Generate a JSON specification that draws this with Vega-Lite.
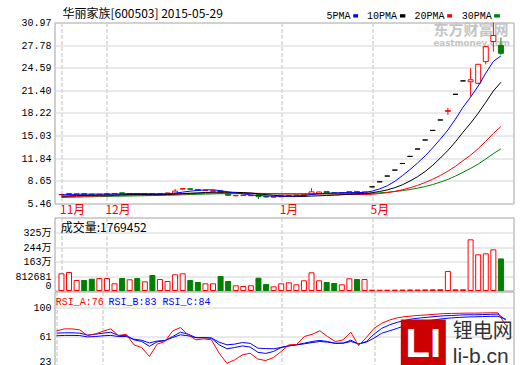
{
  "$schema": "https://vega.github.io/schema/vega-lite/v6.json",
  "background": "#ffffff",
  "padding": {"left": 13.5, "top": 6.5, "right": 2, "bottom": 0},
  "spacing": 14,
  "bounds": "flush",
  "config": {
    "view": {"stroke": "#a0a0a0", "strokeWidth": 1},
    "axis": {"labelFont": "Liberation Mono, Noto Sans CJK SC", "labelFontSize": 10, "labelColor": "#000000", "ticks": false, "tickSize": 0, "domain": false, "gridColor": "#d4d4d4", "gridWidth": 1, "labelOverlap": false}
  },
  "datasets": {
    "k": [
      {"i":0,"o":6.70,"h":6.80,"l":6.62,"c":6.73,"v":936000,"m5":6.67,"m10":6.49,"m20":6.40,"m30":6.31,"ra":68.6,"rb":65.5,"rc":62.0},
      {"i":1,"o":6.84,"h":6.93,"l":6.78,"c":6.87,"v":1008000,"m5":6.73,"m10":6.54,"m20":6.44,"m30":6.34,"ra":71.2,"rb":66.0,"rc":62.5},
      {"i":2,"o":6.78,"h":6.86,"l":6.72,"c":6.81,"v":560000,"m5":6.76,"m10":6.57,"m20":6.47,"m30":6.36,"ra":71.2,"rb":66.0,"rc":62.5},
      {"i":3,"o":6.84,"h":6.88,"l":6.74,"c":6.78,"v":560000,"m5":6.77,"m10":6.60,"m20":6.49,"m30":6.39,"ra":70.0,"rb":65.5,"rc":62.3},
      {"i":4,"o":6.78,"h":6.82,"l":6.66,"c":6.70,"v":633000,"m5":6.78,"m10":6.61,"m20":6.51,"m30":6.41,"ra":62.3,"rb":63.0,"rc":60.5},
      {"i":5,"o":6.70,"h":6.80,"l":6.66,"c":6.77,"v":672000,"m5":6.79,"m10":6.63,"m20":6.54,"m30":6.43,"ra":64.5,"rb":64.0,"rc":61.0},
      {"i":6,"o":6.76,"h":6.88,"l":6.72,"c":6.84,"v":672000,"m5":6.78,"m10":6.65,"m20":6.56,"m30":6.45,"ra":68.0,"rb":65.5,"rc":62.0},
      {"i":7,"o":6.84,"h":6.92,"l":6.80,"c":6.88,"v":375000,"m5":6.79,"m10":6.68,"m20":6.59,"m30":6.48,"ra":71.2,"rb":66.8,"rc":62.5},
      {"i":8,"o":6.96,"h":7.02,"l":6.84,"c":6.90,"v":672000,"m5":6.82,"m10":6.70,"m20":6.62,"m30":6.50,"ra":62.3,"rb":62.5,"rc":61.0},
      {"i":9,"o":6.80,"h":6.90,"l":6.74,"c":6.86,"v":600000,"m5":6.85,"m10":6.71,"m20":6.64,"m30":6.52,"ra":64.0,"rb":62.5,"rc":61.0},
      {"i":10,"o":6.86,"h":6.90,"l":6.74,"c":6.78,"v":672000,"m5":6.85,"m10":6.72,"m20":6.66,"m30":6.54,"ra":49.9,"rb":56.6,"rc":57.5},
      {"i":11,"o":6.78,"h":6.86,"l":6.74,"c":6.82,"v":487000,"m5":6.85,"m10":6.71,"m20":6.68,"m30":6.56,"ra":46.3,"rb":54.5,"rc":56.0},
      {"i":12,"o":6.86,"h":6.90,"l":6.70,"c":6.76,"v":840000,"m5":6.82,"m10":6.71,"m20":6.69,"m30":6.58,"ra":34.4,"rb":48.0,"rc":52.5},
      {"i":13,"o":6.76,"h":6.90,"l":6.72,"c":6.86,"v":616000,"m5":6.82,"m10":6.72,"m20":6.71,"m30":6.60,"ra":51.0,"rb":54.0,"rc":55.0},
      {"i":14,"o":6.86,"h":6.98,"l":6.82,"c":6.94,"v":504000,"m5":6.83,"m10":6.74,"m20":6.73,"m30":6.62,"ra":54.3,"rb":55.5,"rc":55.8},
      {"i":15,"o":6.90,"h":7.50,"l":6.86,"c":7.21,"v":880000,"m5":6.92,"m10":6.79,"m20":6.76,"m30":6.65,"ra":68.6,"rb":61.0,"rc":59.7},
      {"i":16,"o":7.50,"h":7.62,"l":7.44,"c":7.55,"v":936000,"m5":7.06,"m10":6.86,"m20":6.81,"m30":6.69,"ra":73.0,"rb":66.8,"rc":63.3},
      {"i":17,"o":7.54,"h":7.60,"l":7.38,"c":7.46,"v":560000,"m5":7.20,"m10":6.91,"m20":6.85,"m30":6.73,"ra":63.2,"rb":64.2,"rc":62.0},
      {"i":18,"o":7.44,"h":7.50,"l":7.30,"c":7.36,"v":448000,"m5":7.30,"m10":6.96,"m20":6.88,"m30":6.76,"ra":56.6,"rb":59.5,"rc":59.5},
      {"i":19,"o":7.28,"h":7.45,"l":7.22,"c":7.32,"v":375000,"m5":7.38,"m10":7.01,"m20":6.91,"m30":6.79,"ra":57.9,"rb":59.5,"rc":59.5},
      {"i":20,"o":7.20,"h":7.32,"l":7.12,"c":7.25,"v":375000,"m5":7.39,"m10":7.05,"m20":6.94,"m30":6.82,"ra":56.6,"rb":58.9,"rc":59.0},
      {"i":21,"o":7.22,"h":7.26,"l":6.90,"c":6.95,"v":784000,"m5":7.27,"m10":7.07,"m20":6.94,"m30":6.84,"ra":38.8,"rb":50.0,"rc":53.5},
      {"i":22,"o":6.92,"h":6.98,"l":6.55,"c":6.62,"v":504000,"m5":7.10,"m10":7.05,"m20":6.93,"m30":6.84,"ra":25.4,"rb":44.7,"rc":50.0},
      {"i":23,"o":6.55,"h":6.66,"l":6.48,"c":6.60,"v":263000,"m5":6.95,"m10":7.03,"m20":6.92,"m30":6.85,"ra":30.0,"rb":46.4,"rc":50.9},
      {"i":24,"o":6.58,"h":6.68,"l":6.52,"c":6.64,"v":224000,"m5":6.81,"m10":7.00,"m20":6.92,"m30":6.85,"ra":36.6,"rb":48.5,"rc":53.0},
      {"i":25,"o":6.56,"h":6.64,"l":6.50,"c":6.60,"v":263000,"m5":6.68,"m10":6.94,"m20":6.91,"m30":6.85,"ra":38.8,"rb":47.0,"rc":52.0},
      {"i":26,"o":6.70,"h":6.76,"l":6.10,"c":6.42,"v":689000,"m5":6.58,"m10":6.82,"m20":6.89,"m30":6.84,"ra":31.0,"rb":40.0,"rc":45.5},
      {"i":27,"o":6.45,"h":6.50,"l":6.28,"c":6.38,"v":336000,"m5":6.53,"m10":6.71,"m20":6.86,"m30":6.83,"ra":29.0,"rb":38.5,"rc":45.0},
      {"i":28,"o":6.36,"h":6.46,"l":6.30,"c":6.42,"v":207000,"m5":6.49,"m10":6.62,"m20":6.84,"m30":6.83,"ra":33.0,"rb":41.1,"rc":44.7},
      {"i":29,"o":6.42,"h":6.56,"l":6.38,"c":6.52,"v":375000,"m5":6.47,"m10":6.54,"m20":6.82,"m30":6.82,"ra":41.0,"rb":46.4,"rc":46.4},
      {"i":30,"o":6.52,"h":6.64,"l":6.48,"c":6.60,"v":431000,"m5":6.47,"m10":6.48,"m20":6.81,"m30":6.82,"ra":49.9,"rb":48.6,"rc":48.6},
      {"i":31,"o":6.60,"h":6.68,"l":6.54,"c":6.64,"v":319000,"m5":6.51,"m10":6.44,"m20":6.81,"m30":6.81,"ra":50.5,"rb":50.0,"rc":50.0},
      {"i":32,"o":6.62,"h":6.80,"l":6.58,"c":6.76,"v":543000,"m5":6.59,"m10":6.46,"m20":6.81,"m30":6.81,"ra":61.0,"rb":52.2,"rc":51.3},
      {"i":33,"o":6.78,"h":7.62,"l":6.70,"c":7.10,"v":992000,"m5":6.72,"m10":6.51,"m20":6.82,"m30":6.82,"ra":64.0,"rb":54.4,"rc":53.0},
      {"i":34,"o":6.86,"h":7.14,"l":6.80,"c":7.08,"v":543000,"m5":6.84,"m10":6.55,"m20":6.82,"m30":6.83,"ra":68.6,"rb":55.8,"rc":54.4},
      {"i":35,"o":7.16,"h":7.22,"l":6.88,"c":6.94,"v":448000,"m5":6.90,"m10":6.59,"m20":6.81,"m30":6.84,"ra":61.0,"rb":54.4,"rc":53.5},
      {"i":36,"o":6.98,"h":7.02,"l":6.82,"c":6.88,"v":392000,"m5":6.95,"m10":6.63,"m20":6.78,"m30":6.84,"ra":54.3,"rb":51.8,"rc":52.2},
      {"i":37,"o":6.88,"h":7.00,"l":6.84,"c":6.96,"v":319000,"m5":6.99,"m10":6.69,"m20":6.75,"m30":6.84,"ra":56.6,"rb":52.2,"rc":52.2},
      {"i":38,"o":6.94,"h":7.20,"l":6.90,"c":7.14,"v":655000,"m5":7.00,"m10":6.76,"m20":6.74,"m30":6.85,"ra":66.7,"rb":56.2,"rc":54.4},
      {"i":39,"o":7.16,"h":7.22,"l":6.96,"c":7.02,"v":616000,"m5":6.99,"m10":6.81,"m20":6.73,"m30":6.85,"ra":49.0,"rb":50.9,"rc":51.3},
      {"i":40,"o":6.82,"h":7.12,"l":6.78,"c":7.10,"v":616000,"m5":7.02,"m10":6.86,"m20":6.72,"m30":6.86,"ra":59.7,"rb":54.4,"rc":53.5},
      {"i":41,"o":7.81,"h":7.81,"l":7.81,"c":7.81,"v":21000,"m5":7.21,"m10":6.98,"m20":6.76,"m30":6.90,"ra":72.0,"rb":64.2,"rc":58.9},
      {"i":42,"o":8.52,"h":8.52,"l":8.52,"c":8.52,"v":15000,"m5":7.52,"m10":7.16,"m20":6.86,"m30":6.96,"ra":78.7,"rb":72.0,"rc":65.5},
      {"i":43,"o":9.33,"h":9.33,"l":9.33,"c":9.33,"v":18000,"m5":7.96,"m10":7.38,"m20":6.99,"m30":7.04,"ra":83.0,"rb":76.6,"rc":68.6},
      {"i":44,"o":10.17,"h":10.17,"l":10.17,"c":10.17,"v":22000,"m5":8.59,"m10":7.69,"m20":7.17,"m30":7.15,"ra":86.0,"rb":80.0,"rc":72.0},
      {"i":45,"o":11.10,"h":11.10,"l":11.10,"c":11.10,"v":25000,"m5":9.39,"m10":8.10,"m20":7.40,"m30":7.28,"ra":87.5,"rb":82.5,"rc":75.5},
      {"i":46,"o":12.10,"h":12.10,"l":12.10,"c":12.10,"v":30000,"m5":10.24,"m10":8.63,"m20":7.68,"m30":7.43,"ra":88.5,"rb":84.6,"rc":78.8},
      {"i":47,"o":13.14,"h":13.14,"l":13.14,"c":13.14,"v":28000,"m5":11.17,"m10":9.24,"m20":8.02,"m30":7.62,"ra":89.3,"rb":85.8,"rc":80.5},
      {"i":48,"o":14.41,"h":14.41,"l":14.41,"c":14.41,"v":35000,"m5":12.18,"m10":9.97,"m20":8.42,"m30":7.85,"ra":90.0,"rb":86.8,"rc":82.0},
      {"i":49,"o":15.76,"h":15.76,"l":15.76,"c":15.76,"v":40000,"m5":13.30,"m10":10.84,"m20":8.88,"m30":8.13,"ra":90.8,"rb":87.8,"rc":83.5},
      {"i":50,"o":17.23,"h":17.23,"l":17.23,"c":17.23,"v":45000,"m5":14.53,"m10":11.86,"m20":9.41,"m30":8.47,"ra":91.5,"rb":88.6,"rc":85.0},
      {"i":51,"o":18.45,"h":18.95,"l":17.95,"c":18.55,"v":1064000,"m5":15.82,"m10":12.93,"m20":10.01,"m30":8.85,"ra":91.8,"rb":89.0,"rc":85.8},
      {"i":52,"o":20.85,"h":20.85,"l":20.85,"c":20.85,"v":38000,"m5":17.36,"m10":14.16,"m20":10.71,"m30":9.33,"ra":92.0,"rb":89.6,"rc":86.5},
      {"i":53,"o":22.74,"h":22.74,"l":22.74,"c":22.74,"v":42000,"m5":19.03,"m10":15.51,"m20":11.49,"m30":9.86,"ra":92.2,"rb":90.0,"rc":87.0},
      {"i":54,"o":22.62,"h":24.52,"l":20.52,"c":22.90,"v":2840000,"m5":20.45,"m10":16.78,"m20":12.28,"m30":10.41,"ra":92.2,"rb":90.0,"rc":87.3},
      {"i":55,"o":22.40,"h":25.10,"l":22.30,"c":25.08,"v":2000000,"m5":22.02,"m10":18.18,"m20":13.19,"m30":11.02,"ra":92.4,"rb":90.3,"rc":87.6},
      {"i":56,"o":25.46,"h":27.60,"l":25.08,"c":27.58,"v":2056000,"m5":23.83,"m10":19.72,"m20":14.23,"m30":11.73,"ra":92.6,"rb":90.6,"rc":87.9},
      {"i":57,"o":28.29,"h":30.97,"l":26.88,"c":29.13,"v":2280000,"m5":25.49,"m10":21.32,"m20":15.33,"m30":12.49,"ra":92.6,"rb":90.8,"rc":88.0},
      {"i":58,"o":27.72,"h":28.85,"l":26.41,"c":26.63,"v":1769452,"m5":26.26,"m10":22.55,"m20":16.31,"m30":13.16,"ra":76.0,"rb":83.0,"rc":84.0}
    ]
  },
  "vconcat": [
    {
      "width": 459,
      "height": 181,
      "layer": [
        {"data": {"values": [{}]}, "mark": {"type": "text", "align": "left", "baseline": "middle", "font": "Noto Sans CJK SC", "fontSize": 15, "fontWeight": "bold", "color": "#c4c4c4"},
         "encoding": {"x": {"datum": 49.09, "type": "quantitative"}, "y": {"datum": 29.91, "type": "quantitative"}, "text": {"value": "东方财富网"}}},
        {"data": {"values": [{}]}, "mark": {"type": "text", "align": "left", "baseline": "middle", "font": "DejaVu Sans", "fontSize": 8.7, "fontWeight": "bold", "color": "#c4c4c4"},
         "encoding": {"x": {"datum": 49.09, "type": "quantitative"}, "y": {"datum": 28.15, "type": "quantitative"}, "text": {"value": "eastmoney.com"}}},
        {"data": {"name": "k"}, "mark": {"type": "rule", "strokeWidth": 1},
         "encoding": {
           "x": {"field": "i", "type": "quantitative", "scale": {"domain": [-0.26, 59.0], "nice": false, "zero": false},
                 "axis": {"title": null, "values": [0, 6, 29, 41], "tickCount": 20, "labelExpr": "datum.value == 0 ? '11月' : datum.value == 6 ? '12月' : datum.value == 29 ? '1月' : '5月'", "labelColor": "#ff0000", "labelFont": "Noto Sans CJK SC", "labelFontSize": 12, "labelAlign": "left", "labelBaseline": "top", "labelPadding": 1, "labelOffset": -2, "labelFlush": false, "labelOverlap": false, "grid": true, "gridDash": [4, 2], "gridColor": "#c0c0c0"}},
           "y": {"field": "l", "type": "quantitative", "scale": {"domain": [5.46, 30.97], "nice": false, "zero": false},
                 "axis": {"title": null, "values": [5.46, 8.65, 11.84, 15.03, 18.22, 21.40, 24.59, 27.78, 30.97], "tickCount": 20, "format": ".2f", "grid": true, "labelPadding": 3.5, "labelFlush": false, "labelOverlap": false}},
           "y2": {"field": "h"},
           "color": {"condition": [{"test": "datum.c > datum.o", "value": "#ff0000"}, {"test": "datum.c < datum.o", "value": "#008000"}], "value": "#000000"}
         }},
        {"data": {"name": "k"}, "mark": {"type": "bar", "width": 5, "strokeWidth": 1},
         "encoding": {
           "x": {"field": "i", "type": "quantitative"},
           "y": {"field": "o", "type": "quantitative"},
           "y2": {"field": "c"},
           "fill": {"condition": [{"test": "datum.c > datum.o", "value": "#ffffff"}, {"test": "datum.c < datum.o", "value": "#008000"}], "value": "#000000"},
           "stroke": {"condition": [{"test": "datum.c > datum.o", "value": "#ff0000"}, {"test": "datum.c < datum.o", "value": "#008000"}], "value": "#000000"}
         }},
        {"data": {"name": "k"}, "mark": {"type": "line", "color": "#008000", "strokeWidth": 1},
         "encoding": {"x": {"field": "i", "type": "quantitative"}, "y": {"field": "m30", "type": "quantitative"}}},
        {"data": {"name": "k"}, "mark": {"type": "line", "color": "#ff0000", "strokeWidth": 1},
         "encoding": {"x": {"field": "i", "type": "quantitative"}, "y": {"field": "m20", "type": "quantitative"}}},
        {"data": {"name": "k"}, "mark": {"type": "line", "color": "#000000", "strokeWidth": 1},
         "encoding": {"x": {"field": "i", "type": "quantitative"}, "y": {"field": "m10", "type": "quantitative"}}},
        {"data": {"name": "k"}, "mark": {"type": "line", "color": "#0000ff", "strokeWidth": 1},
         "encoding": {"x": {"field": "i", "type": "quantitative"}, "y": {"field": "m5", "type": "quantitative"}}},
        {"data": {"values": [{}]}, "mark": {"type": "text", "align": "left", "baseline": "middle", "font": "Noto Sans CJK SC", "fontSize": 12, "color": "#000000"},
         "encoding": {"x": {"datum": 0.127, "type": "quantitative"}, "y": {"datum": 32.17, "type": "quantitative"}, "text": {"value": "华丽家族[600503] 2015-05-29"}}},
        {"data": {"values": [{}]}, "mark": {"type": "text", "align": "left", "baseline": "middle", "font": "Liberation Mono", "fontSize": 10, "color": "#000000"},
         "encoding": {"x": {"datum": 34.98, "type": "quantitative"}, "y": {"datum": 31.91, "type": "quantitative"}, "text": {"value": "5PMA"}}},
        {"data": {"values": [{}]}, "mark": {"type": "text", "align": "left", "baseline": "middle", "font": "Liberation Mono", "fontSize": 10, "color": "#000000"},
         "encoding": {"x": {"datum": 40.32, "type": "quantitative"}, "y": {"datum": 31.91, "type": "quantitative"}, "text": {"value": "10PMA"}}},
        {"data": {"values": [{}]}, "mark": {"type": "text", "align": "left", "baseline": "middle", "font": "Liberation Mono", "fontSize": 10, "color": "#000000"},
         "encoding": {"x": {"datum": 46.60, "type": "quantitative"}, "y": {"datum": 31.91, "type": "quantitative"}, "text": {"value": "20PMA"}}},
        {"data": {"values": [{}]}, "mark": {"type": "text", "align": "left", "baseline": "middle", "font": "Liberation Mono", "fontSize": 10, "color": "#000000"},
         "encoding": {"x": {"datum": 52.84, "type": "quantitative"}, "y": {"datum": 31.91, "type": "quantitative"}, "text": {"value": "30PMA"}}},
        {"data": {"values": [{}]}, "mark": {"type": "rect", "color": "#0000ff"},
         "encoding": {"x": {"datum": 38.51, "type": "quantitative"}, "x2": {"datum": 39.15}, "y": {"datum": 32.14, "type": "quantitative"}, "y2": {"datum": 31.67}}},
        {"data": {"values": [{}]}, "mark": {"type": "rect", "color": "#000000"},
         "encoding": {"x": {"datum": 44.67, "type": "quantitative"}, "x2": {"datum": 45.39}, "y": {"datum": 32.14, "type": "quantitative"}, "y2": {"datum": 31.67}}},
        {"data": {"values": [{}]}, "mark": {"type": "rect", "color": "#ff0000"},
         "encoding": {"x": {"datum": 50.90, "type": "quantitative"}, "x2": {"datum": 51.55}, "y": {"datum": 32.14, "type": "quantitative"}, "y2": {"datum": 31.67}}},
        {"data": {"values": [{}]}, "mark": {"type": "rect", "color": "#008000"},
         "encoding": {"x": {"datum": 57.10, "type": "quantitative"}, "x2": {"datum": 57.87}, "y": {"datum": 32.14, "type": "quantitative"}, "y2": {"datum": 31.67}}}
      ]
    },
    {
      "spacing": 1,
      "bounds": "flush",
      "vconcat": [
        {
          "width": 459,
          "height": 73,
          "layer": [
            {"data": {"name": "k"}, "mark": {"type": "bar", "width": 5, "strokeWidth": 1},
             "encoding": {
               "x": {"field": "i", "type": "quantitative", "scale": {"domain": [-0.26, 59.0], "nice": false, "zero": false},
                     "axis": {"title": null, "values": [0, 6, 29, 41], "tickCount": 20, "labels": false, "grid": true, "gridDash": [4, 2], "gridColor": "#c0c0c0"}},
               "y": {"field": "v", "type": "quantitative", "stack": null, "scale": {"domain": [0, 4091429], "nice": false},
                     "axis": {"title": null, "values": [0, 812681, 1625362, 2438043, 3250724], "tickCount": 20, "labelExpr": "datum.value >= 1000000 ? format(datum.value / 10000, '.0f') + '万' : '' + datum.value", "grid": true, "labelPadding": 3.5, "labelFlush": true, "labelOverlap": false}},
               "fill": {"condition": {"test": "datum.c < datum.o", "value": "#008000"}, "value": "#ffffff"},
               "stroke": {"condition": {"test": "datum.c < datum.o", "value": "#008000"}, "value": "#ff0000"}
             }},
            {"data": {"values": [{}]}, "mark": {"type": "text", "align": "left", "baseline": "middle", "font": "Noto Sans CJK SC", "fontSize": 12, "color": "#000000"},
             "encoding": {"x": {"datum": -0.09, "type": "quantitative"}, "y": {"datum": 3530959, "type": "quantitative"}, "text": {"value": "成交量:1769452"}}}
          ]
        },
        {
          "width": 459,
          "height": 75,
          "layer": [
            {"data": {"name": "k"}, "mark": {"type": "line", "color": "#0000ff", "strokeWidth": 1},
             "encoding": {
               "x": {"field": "i", "type": "quantitative", "scale": {"domain": [-0.26, 59.0], "nice": false, "zero": false},
                     "axis": {"title": null, "values": [0, 6, 29, 41], "tickCount": 20, "labels": false, "grid": true, "gridDash": [4, 2], "gridColor": "#c0c0c0"}},
               "y": {"field": "rc", "type": "quantitative", "scale": {"domain": [21.1, 121], "nice": false, "zero": false},
                     "axis": {"title": null, "values": [23, 61, 100], "tickCount": 20, "grid": true, "labelPadding": 3.5, "labelOverlap": false, "labelFlush": 3, "labelFlushOffset": 1.5}}
             }},
            {"data": {"name": "k"}, "mark": {"type": "line", "color": "#0000ff", "strokeWidth": 1},
             "encoding": {"x": {"field": "i", "type": "quantitative"}, "y": {"field": "rb", "type": "quantitative"}}},
            {"data": {"name": "k"}, "mark": {"type": "line", "color": "#ff0000", "strokeWidth": 1},
             "encoding": {"x": {"field": "i", "type": "quantitative"}, "y": {"field": "ra", "type": "quantitative"}}},
            {"data": {"values": [{}]}, "mark": {"type": "text", "align": "left", "baseline": "middle", "font": "Liberation Mono", "fontSize": 10, "color": "#ff0000"},
             "encoding": {"x": {"datum": -0.09, "type": "quantitative"}, "y": {"datum": 107.0, "type": "quantitative"}, "text": {"value": "RSI_A:76"}}},
            {"data": {"values": [{}]}, "mark": {"type": "text", "align": "left", "baseline": "middle", "font": "Liberation Mono", "fontSize": 10, "color": "#0000ff"},
             "encoding": {"x": {"datum": 6.71, "type": "quantitative"}, "y": {"datum": 107.0, "type": "quantitative"}, "text": {"value": "RSI_B:83"}}},
            {"data": {"values": [{}]}, "mark": {"type": "text", "align": "left", "baseline": "middle", "font": "Liberation Mono", "fontSize": 10, "color": "#0000ff"},
             "encoding": {"x": {"datum": 13.68, "type": "quantitative"}, "y": {"datum": 107.0, "type": "quantitative"}, "text": {"value": "RSI_C:84"}}},
            {"data": {"values": [{}]}, "mark": {"type": "rect", "color": "#cc0000"},
             "encoding": {"x": {"datum": 44.45, "type": "quantitative"}, "x2": {"datum": 50.26}, "y": {"datum": 83.7, "type": "quantitative"}, "y2": {"datum": 21.1}}},
            {"data": {"values": [{}]}, "mark": {"type": "text", "align": "center", "baseline": "alphabetic", "font": "Liberation Sans", "fontSize": 40, "fontWeight": "bold", "color": "#ffffff"},
             "encoding": {"x": {"datum": 47.35, "type": "quantitative"}, "y": {"datum": 33.5, "type": "quantitative"}, "text": {"value": "LI"}}},
            {"data": {"values": [{}]}, "mark": {"type": "text", "align": "left", "baseline": "middle", "font": "Noto Sans CJK SC", "fontSize": 20, "color": "#333333"},
             "encoding": {"x": {"datum": 51.16, "type": "quantitative"}, "y": {"datum": 67.7, "type": "quantitative"}, "text": {"value": "锂电网"}}},
            {"data": {"values": [{}]}, "mark": {"type": "text", "align": "left", "baseline": "alphabetic", "font": "Liberation Sans", "fontSize": 21, "color": "#333333"},
             "encoding": {"x": {"datum": 51.16, "type": "quantitative"}, "y": {"datum": 26.0, "type": "quantitative"}, "text": {"value": "li-b.cn"}}}
          ]
        }
      ]
    }
  ]
}
